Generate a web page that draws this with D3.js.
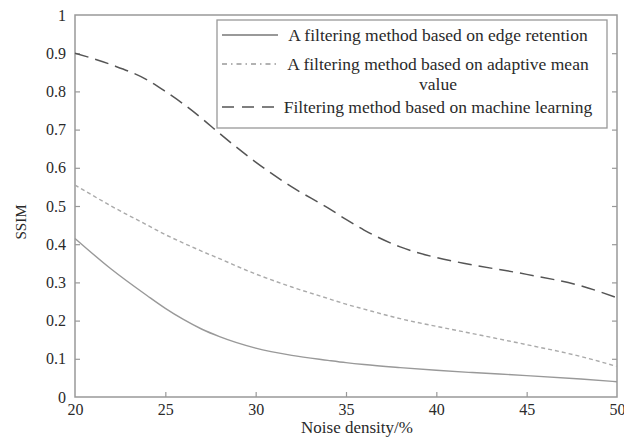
<!DOCTYPE html>
<head>
    <script src="https://d3js.org/d3.v7.min.js"></script>
</head>
<style>
body { margin: 0; background: #fff; }
svg { font-family: "Liberation Serif", "DejaVu Serif", serif; }
</style>
<body>
<svg></svg>
<script>
    // noise density (%) for each sample
    var density = [20, 22, 24, 25, 26, 27, 28, 30, 32, 34, 35, 36, 38, 40, 42, 45, 48, 50];
    // SSIM
    var edgeRetention = [0.415, 0.335, 0.265, 0.232, 0.203, 0.178, 0.158, 0.128, 0.109, 0.096, 0.09, 0.085, 0.077, 0.07, 0.064, 0.056, 0.047, 0.04];
    var adaptiveMean  = [0.555, 0.5, 0.45, 0.425, 0.403, 0.382, 0.362, 0.322, 0.288, 0.258, 0.243, 0.23, 0.205, 0.185, 0.166, 0.137, 0.106, 0.08];
    var machineLearn  = [0.90, 0.87, 0.83, 0.80, 0.767, 0.73, 0.69, 0.615, 0.55, 0.495, 0.465, 0.437, 0.393, 0.365, 0.346, 0.321, 0.291, 0.26];
    var names = ["A filtering method based on edge retention",
                 "A filtering method based on adaptive mean value",
                 "Filtering method based on machine learning"];
    var xTicks = [20, 25, 30, 35, 40, 45, 50];
    var yTicks = [0, 0.1, 0.2, 0.3, 0.4, 0.5, 0.6, 0.7, 0.8, 0.9, 1];

    var width = 624, height = 448;
    var mLeft = 75, mRight = 617, mTop = 15, mBottom = 397;
    var axisColor = "#999";

    var svg = d3.select("svg").attr("width", width).attr("height", height);

    var x = d3.scaleLinear().domain([20, 50]).range([mLeft, mRight]);
    var y = d3.scaleLinear().domain([0, 1]).range([mBottom, mTop]);

    // box
    svg.append("rect")
        .attr("x", mLeft).attr("y", mTop)
        .attr("width", mRight - mLeft).attr("height", mBottom - mTop)
        .attr("fill", "none").attr("stroke", axisColor).attr("stroke-width", 1.5);

    // ticks inside the box
    var xAxis = svg.append("g").attr("transform", "translate(0," + mBottom + ")")
        .call(d3.axisBottom(x).tickValues(xTicks).tickSizeInner(-5).tickSizeOuter(0).tickPadding(7));
    var yAxis = svg.append("g").attr("transform", "translate(" + mLeft + ",0)")
        .call(d3.axisLeft(y).tickValues(yTicks).tickSizeInner(-5).tickSizeOuter(0).tickPadding(9)
            .tickFormat(function (d) { return String(+d.toFixed(1)); }));
    var yRight = svg.append("g").attr("transform", "translate(" + mRight + ",0)")
        .call(d3.axisRight(y).tickValues(yTicks.slice(1, -1)).tickSizeInner(-5).tickSizeOuter(0).tickFormat(""));

    [xAxis, yAxis, yRight].forEach(function (g) {
        g.select(".domain").remove();
        g.selectAll(".tick line").attr("stroke", axisColor).attr("stroke-width", 1.2);
        g.selectAll(".tick text").attr("fill", "#2a2a2a").style("font-size", "16px")
            .style("font-family", "'Liberation Serif', serif");
    });
    // no tick marks at the corners
    xAxis.selectAll(".tick").filter(function (d) { return d === 20 || d === 50; }).select("line").remove();
    yAxis.selectAll(".tick").filter(function (d) { return d === 0 || d === 1; }).select("line").remove();

    // axis titles
    svg.append("text").attr("x", 357).attr("y", 433).attr("text-anchor", "middle")
        .attr("fill", "#2a2a2a").style("font-size", "17px").text("Noise density/%");
    svg.append("text").attr("transform", "translate(26,222)rotate(-90)").attr("text-anchor", "middle")
        .attr("fill", "#2a2a2a").style("font-size", "15px").text("SSIM");

    // curves
    var styles = [
        { data: edgeRetention, color: "#999", dash: null, w: 1.4 },
        { data: adaptiveMean,  color: "#aaa", dash: "4,3", w: 1.4 },
        { data: machineLearn,  color: "#555", dash: "14,7", w: 1.5 }
    ];

    var line = d3.line()
        .x(function (d) { return x(d[0]); })
        .y(function (d) { return y(d[1]); })
        .curve(d3.curveMonotoneX);

    styles.forEach(function (s) {
        svg.append("path")
            .datum(density.map(function (d, i) { return [d, s.data[i]]; }))
            .attr("d", line)
            .attr("fill", "none")
            .attr("stroke", s.color)
            .attr("stroke-width", s.w)
            .attr("stroke-dasharray", s.dash);
    });

    // legend
    var lg = svg.append("g");
    lg.append("rect").attr("x", 217).attr("y", 20).attr("width", 390).attr("height", 108)
        .attr("fill", "#fff").attr("stroke", axisColor).attr("stroke-width", 1.3);

    var rows = [
        { y: 35, lines: [names[0]] },
        { y: 64, lines: ["A filtering method based on adaptive mean", "value"] },
        { y: 107, lines: [names[2]] }
    ];
    var legendDash = [null, "5,4,1.5,4", "12,8"];
    var legendColor = ["#777", "#999", "#555"];

    rows.forEach(function (r, i) {
        lg.append("line").attr("x1", 222).attr("x2", 278).attr("y1", r.y).attr("y2", r.y)
            .attr("stroke", legendColor[i]).attr("stroke-width", 1.5)
            .attr("stroke-dasharray", legendDash[i]);
        r.lines.forEach(function (t, k) {
            lg.append("text").attr("x", 438).attr("y", r.y + k * 20).attr("dy", "0.35em")
                .attr("text-anchor", "middle").attr("fill", "#2a2a2a")
                .style("font-size", "17.5px").text(t);
        });
    });
</script>
</body>
